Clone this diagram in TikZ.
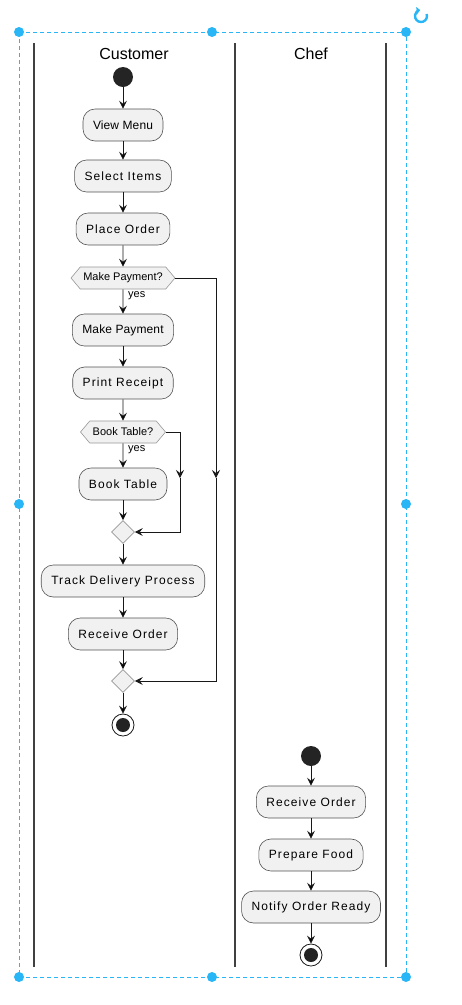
\documentclass[tikz,border=0pt]{standalone}
\usepackage{fontspec}
\setmainfont{Liberation Sans}
\usetikzlibrary{arrows.meta}
\usetikzlibrary{shapes.geometric,shapes.symbols}
\definecolor{actfill}{HTML}{F1F1F1}
\definecolor{lineblk}{HTML}{181818}
\definecolor{lanegray}{HTML}{404040}
\definecolor{selblue}{HTML}{29B6F6}

\begin{document}
\begin{tikzpicture}[x=1pt,y=-1pt,
              >={Stealth[length=8pt,width=8pt,inset=3pt]},
              action/.style={rectangle,rounded corners=12pt,draw=lineblk!75,
                fill=actfill,line width=0.6pt,minimum height=32pt,inner xsep=10pt,
                font=\fontsize{12}{14}\selectfont\addfontfeature{LetterSpace=9}},
              tight/.style={font=\fontsize{12}{14}\selectfont\addfontfeature{LetterSpace=1}},
              choice/.style={signal,signal to=east and west,signal pointer angle=100,
                draw=lineblk!45,fill=actfill,line width=0.6pt,minimum height=22pt,
                inner xsep=3pt,font=\fontsize{11}{13}\selectfont},
              merge/.style={diamond,draw=lineblk!45,fill=actfill,line width=0.6pt,
                minimum size=23pt,inner sep=0pt},
              start/.style={circle,fill=lineblk!95,minimum size=20pt,inner sep=0pt},
              stop/.style={circle,draw=lineblk,line width=0.8pt,fill=white,
                minimum size=22pt,inner sep=0pt},
              lane/.style={draw=lanegray,line width=1.5pt},
              flow/.style={draw=lineblk,line width=0.8pt},
              guard/.style={font=\fontsize{11}{13}\selectfont,anchor=west,inner sep=0pt},
              handle/.style={circle,fill=selblue,minimum size=10pt,inner sep=0pt}]
    \useasboundingbox (0,0) rectangle (461,1005);

    % swimlanes
    \draw [lane] (34,43) -- (34,967);
    \draw [lane] (235,43) -- (235,967);
    \draw [lane] (386,43) -- (386,967);
    \node [font=\fontsize{16}{18}\selectfont] (customer) at (134,54) {Customer};
    \node [font=\fontsize{16}{18}\selectfont] (chef) at (311,54) {Chef};

    % customer lane
    \node [start] (c0) at (123,77) {};
    \node [action,tight] (viewmenu) at (123,125) {View Menu};
    \node [action] (select) at (123,176) {Select Items};
    \node [action] (place) at (123,229) {Place Order};
    \node [choice] (payq) at (123,278) {Make Payment?};
    \node [action,tight] (pay) at (123,330) {Make Payment};
    \node [action] (receipt) at (123,383) {Print Receipt};
    \node [choice] (bookq) at (123,432) {Book Table?};
    \node [action] (book) at (123,484) {Book Table};
    \node [merge] (m1) at (123,532) {};
    \node [action] (track) at (123,581) {Track Delivery Process};
    \node [action] (crecv) at (123,634) {Receive Order};
    \node [merge] (m2) at (123,681) {};
    \node [stop] (c9) at (123,725) {};
    \fill [lineblk!95] (c9) circle (7pt);
    \node [guard] (yes1) at (128,296) {yes};
    \node [guard] (yes2) at (128,450) {yes};

    \coordinate (payr) at (216,278);
    \coordinate (paym) at (216,478);
    \coordinate (paye) at (216,681);
    \coordinate (bookr) at (180,432);
    \coordinate (bookm) at (180,478);
    \coordinate (booke) at (180,532);

    \path [->,flow] (c0) edge (viewmenu);
    \path [->,flow] (viewmenu) edge (select);
    \path [->,flow] (select) edge (place);
    \path [->,flow] (place) edge (payq);
    \path [->,flow] (payq) edge (pay);
    \path [->,flow] (pay) edge (receipt);
    \path [->,flow] (receipt) edge (bookq);
    \path [->,flow] (bookq) edge (book);
    \path [->,flow] (book) edge (m1);
    \path [->,flow] (m1) edge (track);
    \path [->,flow] (track) edge (crecv);
    \path [->,flow] (crecv) edge (m2);
    \path [->,flow] (m2) edge (c9);
    \draw [->,flow] (payq.east) -- (payr) -- (paym);
    \draw [->,flow] (paym) -- (paye) -- (m2.east);
    \draw [->,flow] (bookq.east) -- (bookr) -- (bookm);
    \draw [->,flow] (bookm) -- (booke) -- (m1.east);

    % chef lane
    \node [start] (k0) at (311,756) {};
    \node [action] (krecv) at (311,802) {Receive Order};
    \node [action] (prepare) at (311,855) {Prepare Food};
    \node [action] (notify) at (311,907) {Notify Order Ready};
    \node [stop] (k9) at (311,955) {};
    \fill [lineblk!95] (k9) circle (7pt);

    \path [->,flow] (k0) edge (krecv);
    \path [->,flow] (krecv) edge (prepare);
    \path [->,flow] (prepare) edge (notify);
    \path [->,flow] (notify) edge (k9);

    % selection frame
    \draw [selblue,line width=1pt,dash pattern=on 4pt off 3pt] (19,32) rectangle (406,977);
    \foreach \hx/\hy in {19/32,212/32,406/32,19/504,406/504,19/977,212/977,406/977}
      \node [handle] at (\hx,\hy) {};
    \draw [selblue,line width=2.4pt,-{Triangle[length=3.5pt,width=7pt]}] (421,16) ++(-20:6) arc (-20:262:6);
\end{tikzpicture}
\end{document}
